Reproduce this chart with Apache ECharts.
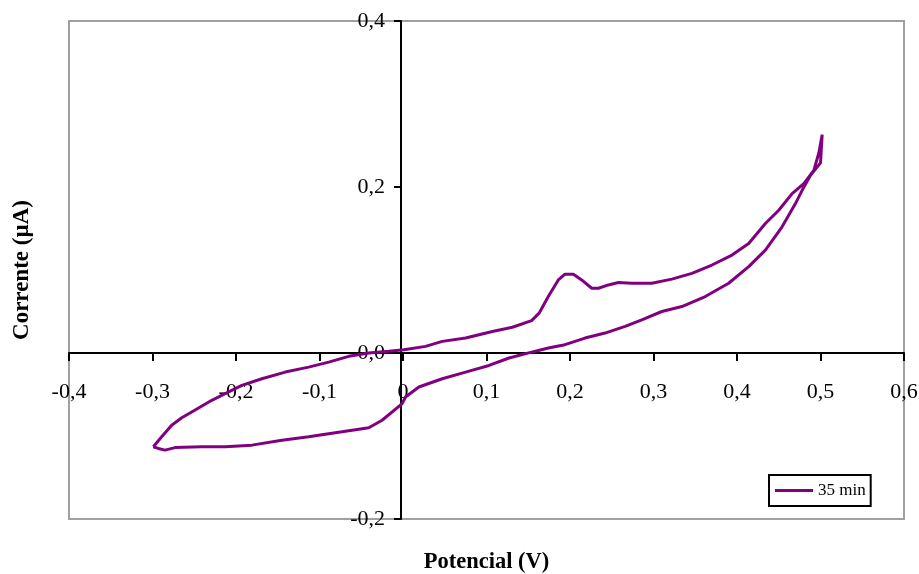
<!DOCTYPE html>
<html>
<head>
<meta charset="utf-8">
<script src="https://cdn.jsdelivr.net/npm/echarts@6/dist/echarts.min.js"></script>
<style>html,body{margin:0;padding:0;background:#fff}#c{width:919px;height:574px}</style>
</head>
<body>
<div id="c"></div>
<script>
// Potencial (V) — path order: left tip, forward (upper) branch, reverse (lower) branch
var potencial = [
  -0.299,-0.289,-0.277,-0.265,-0.253,-0.229,-0.213,-0.193,-0.169,-0.141,-0.113,-0.089,-0.065,-0.041,-0.017,
  0.001,0.027,0.047,0.075,0.107,0.131,0.154,0.163,0.174,0.186,0.194,0.204,0.214,0.226,0.234,0.246,0.258,
  0.274,0.298,0.322,0.346,0.370,0.394,0.414,0.434,0.450,0.466,0.480,0.492,0.498,0.502,
  0.500,0.488,0.478,0.470,0.454,0.434,0.414,0.390,0.362,0.334,0.310,0.286,0.266,0.242,0.218,0.194,0.174,
  0.154,0.127,0.103,0.075,0.047,0.019,0.003,-0.001,-0.025,-0.041,-0.073,-0.113,-0.145,-0.181,-0.213,
  -0.241,-0.273,-0.285,-0.293,-0.299
];
// Corrente (µA)
var corrente = [
  -0.113,-0.101,-0.087,-0.078,-0.071,-0.057,-0.049,-0.039,-0.031,-0.023,-0.017,-0.011,-0.004,0.000,0.002,
  0.004,0.008,0.014,0.018,0.026,0.031,0.039,0.048,0.068,0.088,0.095,0.095,0.088,0.078,0.078,0.082,0.085,
  0.084,0.084,0.089,0.096,0.106,0.118,0.132,0.156,0.172,0.192,0.204,0.220,0.241,0.263,
  0.229,0.214,0.196,0.180,0.152,0.124,0.104,0.084,0.068,0.056,0.050,0.040,0.032,0.024,0.018,0.010,0.006,
  0.001,-0.006,-0.015,-0.023,-0.031,-0.041,-0.053,-0.061,-0.081,-0.090,-0.095,-0.101,-0.105,-0.111,-0.113,
  -0.113,-0.114,-0.117,-0.115,-0.113
];
var seriesName = '35 min';
var xTitle = 'Potencial (V)';
var yTitle = 'Corrente (µA)';

var pts = potencial.map(function (x, i) { return [x, corrente[i]]; });
function fmt(v, zeroText) {
  if (Math.abs(v) < 1e-9) return zeroText;
  return v.toFixed(1).replace('.', ',');
}
var font = '"Liberation Serif", "Times New Roman", serif';
var chart = echarts.init(document.getElementById('c'), null, { renderer: 'canvas' });
chart.setOption({
  animation: false,
  backgroundColor: '#fff',
  grid: { left: 69, right: 15, top: 21, bottom: 55, show: true, borderColor: '#a0a0a0', borderWidth: 2,
    containLabel: false, outerBoundsMode: 'none' },
  legend: {
    data: [{ name: seriesName, icon: 'rect' }], left: 769, top: 475, orient: 'vertical',
    borderColor: '#000', borderWidth: 2, padding: [6, 5, 6, 6],
    itemWidth: 38, itemHeight: 3,
    textStyle: { fontFamily: font, fontSize: 17, color: '#000', lineHeight: 19 }
  },
  xAxis: {
    type: 'value', min: -0.4, max: 0.6, interval: 0.1, position: 'bottom', offset: -166,
    name: xTitle, nameLocation: 'middle', nameGap: 198,
    nameTextStyle: { fontFamily: font, fontWeight: 'bold', fontSize: 22.5, color: '#000' },
    axisLine: { show: true, onZero: false, lineStyle: { color: '#000', width: 2 } },
    axisTick: { show: true, length: 8, lineStyle: { color: '#000', width: 2 } },
    axisLabel: { margin: 28, fontFamily: font, fontSize: 22, color: '#000', showMinLabel: true, showMaxLabel: true,
      formatter: function (v) { return fmt(v, '0'); } },
    splitLine: { show: false }
  },
  yAxis: {
    type: 'value', min: -0.2, max: 0.4, interval: 0.2, position: 'left', offset: -332,
    name: yTitle, nameLocation: 'middle', nameGap: 367, nameRotate: 90,
    nameTextStyle: { fontFamily: font, fontWeight: 'bold', fontSize: 23, color: '#000' },
    axisLine: { show: true, onZero: false, lineStyle: { color: '#000', width: 2 } },
    axisTick: { show: true, length: 7, lineStyle: { color: '#000', width: 2 } },
    axisLabel: { margin: 16, fontFamily: font, fontSize: 22, color: '#000',
      formatter: function (v) { return fmt(v, '0,0'); } },
    splitLine: { show: false }
  },
  series: [{
    name: seriesName, type: 'line', data: pts, symbol: 'none', smooth: false,
    lineStyle: { color: '#800080', width: 3 }, itemStyle: { color: '#800080' }
  }]
});
</script>
</body>
</html>
